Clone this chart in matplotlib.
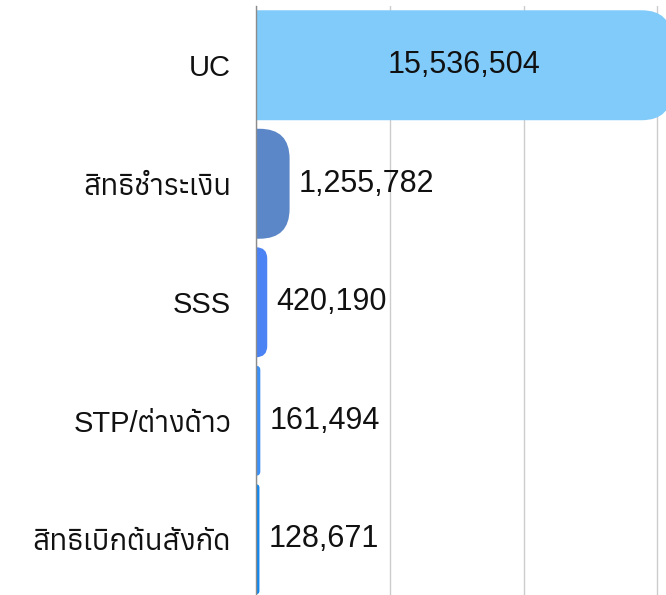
import matplotlib
matplotlib.use('Agg')
import matplotlib.pyplot as plt
from matplotlib import font_manager
from matplotlib.ft2font import FT2Font
from matplotlib.patches import FancyBboxPatch
from matplotlib.ticker import MultipleLocator

categories = ['UC', 'สิทธิชำระเงิน', 'SSS', 'STP/ต่างด้าว', 'สิทธิเบิกต้นสังกัด']
values = [15536504, 1255782, 420190, 161494, 128671]
bar_colors = ['#80cbfa', '#5b86c8', '#4b83f5', '#3d90f6', '#1287ee']

# look for any installed font that has Thai glyphs
thai_fonts = []
for f in font_manager.fontManager.ttflist:
    try:
        if 0x0E2A in FT2Font(f.fname).get_charmap():
            thai_fonts.append(f.name)
    except Exception:
        pass
families = ['Liberation Sans'] + sorted(set(thai_fonts)) + ['DejaVu Sans']

fig = plt.figure(figsize=(6.66, 5.95), dpi=100)
# axes runs a bit past the right edge, like the cut-off original
ax = fig.add_axes([256 / 666, -3.5 / 595, 428 / 666, 592.5 / 595])
xmax = 16e6
ax.set_xlim(0, xmax)
ax.set_ylim(len(categories) - 0.5, -0.5)

# data units per pixel, used for the rounded ends
dx = xmax / 428
dy = len(categories) / 592.5
bar_h = 0.928

for i, (v, c) in enumerate(zip(values, bar_colors)):
    r = min(30, v / dx)
    patch = FancyBboxPatch((-r * dx, i - bar_h / 2), v + r * dx, bar_h,
                           boxstyle=f'round,pad=0,rounding_size={r * dx}',
                           mutation_aspect=dy / dx, fc=c, ec='none', zorder=2)
    ax.add_patch(patch)

    label = f'{v:,}'
    if v > max(values) / 2:
        ax.text(v / 2, i, label, ha='center', va='center', fontsize=22,
                family=families, color='#111111', zorder=3)
    else:
        ax.annotate(label, (v, i), xytext=(6.5, 0), textcoords='offset points',
                    ha='left', va='center', fontsize=22, family=families,
                    color='#111111', zorder=3)

ax.xaxis.set_major_locator(MultipleLocator(5e6))
ax.grid(axis='x', color='#cccccc', lw=1)
ax.set_axisbelow(True)
ax.tick_params(axis='x', length=0, labelbottom=False)

ax.set_yticks(range(len(categories)))
ax.set_yticklabels(categories, fontsize=21, family=families, color='#111111')
ax.tick_params(axis='y', length=0, pad=18)

for side in ['top', 'right', 'bottom']:
    ax.spines[side].set_visible(False)
ax.spines['left'].set_color('#8c8c8c')
ax.spines['left'].set_linewidth(1)

fig.savefig('out.png', dpi=100)
